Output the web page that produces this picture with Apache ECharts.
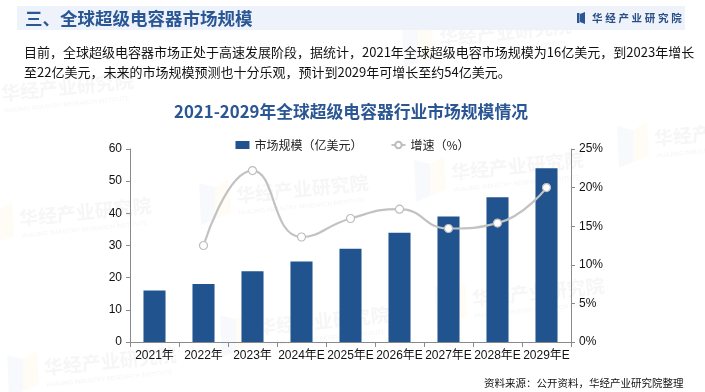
<!DOCTYPE html>
<html>
<head>
<meta charset="utf-8">
<script src="https://cdn.jsdelivr.net/npm/echarts@6/dist/echarts.min.js"></script>
<style>
html,body{margin:0;padding:0;background:#fff;}
#c{width:705px;height:392px;}
</style>
</head>
<body>
<div id="c"></div>
<script>
const categories = ['2021年','2022年','2023年','2024年E','2025年E','2026年E','2027年E','2028年E','2029年E'];
const marketSize = [16, 18, 22, 25, 29, 34, 39, 45, 54];
const growthRate = [null, 12.5, 22.2, 13.6, 16.0, 17.2, 14.7, 15.4, 20.0];
const leftTicks = {min: 0, max: 60, interval: 10};
const rightTicks = {min: 0, max: 25, interval: 5};
const seriesNames = ['市场规模（亿美元）', '增速（%）'];
const headerTitle = '三、全球超级电容器市场规模';
const chartTitle = '2021-2029年全球超级电容器行业市场规模情况';
const paraLines = [
  '目前，全球超级电容器市场正处于高速发展阶段，据统计，2021年全球超级电容市场规模为16亿美元，到2023年增长',
  '至22亿美元，未来的市场规模预测也十分乐观，预计到2029年可增长至约54亿美元。'
];
const sourceText = '资料来源：公开资料，华经产业研究院整理';
const brandChars = ['华','经','产','业','研','究','院'];

const FONT = '"Liberation Sans", "Noto Sans CJK SC", sans-serif';
const CJK = '"Noto Sans CJK SC", "Liberation Sans", sans-serif';

const wmPos = [[2,103],[20,228],[237,205],[258,337],[440,48],[452,182],[473,308],[45,377],[655,148]];
const graphics = [];
wmPos.forEach(p => {
  graphics.push({type:'polygon', z:-10, silent:true,
    shape:{points:[[p[0]-38,p[1]-22],[p[0]-22,p[1]-18],[p[0]-22,p[1]+14],[p[0]-36,p[1]+20]]},
    style:{fill:'rgba(200,215,240,0.15)'}});
  graphics.push({type:'polygon', z:-10, silent:true,
    shape:{points:[[p[0]-22,p[1]-18],[p[0]-8,p[1]-26],[p[0]-6,p[1]+8],[p[0]-22,p[1]+14]]},
    style:{fill:'rgba(250,235,180,0.15)'}});
  graphics.push({type:'text', z:-10, silent:true, x:p[0], y:p[1], rotation:0.1,
    style:{text:'华经产业研究院', font:'bold 19px ' + CJK, fill:'rgba(170,170,170,0.10)', textVerticalAlign:'bottom'}});
  graphics.push({type:'text', z:-10, silent:true, x:p[0]+2, y:p[1]+11, rotation:0.1,
    style:{text:'HUAJING INDUSTRY RESEARCH INSTITUTE', font:'6px ' + FONT, fill:'rgba(170,170,170,0.13)', textVerticalAlign:'bottom'}});
});
// header band
graphics.push({type:'rect', z:1, shape:{x:17,y:6,width:668,height:24}, style:{fill:'#eef3fb'}});
graphics.push({type:'text', z:2, x:25, y:18, style:{text:headerTitle, font:'bold 17.5px ' + CJK, fill:'#2a5694', textVerticalAlign:'middle'}});
graphics.push({type:'rect', z:2, shape:{x:577,y:13,width:2.5,height:10}, style:{fill:'#2a5694'}});
graphics.push({type:'polygon', z:2, shape:{points:[[580,14],[585,12],[585,24],[580,22]]}, style:{fill:'#2a5694'}});
brandChars.forEach((ch,i) => {
  graphics.push({type:'text', z:2, x:592 + i*13.2, y:18, style:{text:ch, font:'bold 10.5px ' + CJK, fill:'#2a4f86', textVerticalAlign:'middle'}});
});
paraLines.forEach((t,i) => {
  graphics.push({type:'text', z:2, x:24, y:52 + i*20, style:{text:t, font:'13px ' + CJK, fill:'#111', textVerticalAlign:'middle'}});
});
graphics.push({type:'text', z:2, x:351, y:112, style:{text:chartTitle, font:'bold 16.8px ' + CJK, fill:'#2a5694', textAlign:'center', textVerticalAlign:'middle'}});
graphics.push({type:'text', z:2, x:484, y:383, style:{text:sourceText, font:'10.5px ' + CJK, fill:'#111', textVerticalAlign:'middle'}});

const axisGray = '#8a8a8a';
const option = {
  animation: false,
  backgroundColor: '#fff',
  graphic: graphics,
  legend: {
    top: 134, left: 'center', itemGap: 28, itemWidth: 14, itemHeight: 8,
    textStyle: {fontSize: 12, color: '#222', fontFamily: CJK},
    data: [
      {name: seriesNames[0], icon: 'rect'},
      {name: seriesNames[1]}
    ]
  },
  grid: {left: 130, right: 134, top: 149, bottom: 50, containLabel: false},
  xAxis: {
    type: 'category', data: categories,
    axisLine: {lineStyle: {color: axisGray}},
    axisTick: {show: true, length: 5, lineStyle: {color: axisGray}},
    axisLabel: {color: '#111', fontSize: 12, fontFamily: FONT, margin: 8, interval: 0}
  },
  yAxis: [
    {type: 'value', min: leftTicks.min, max: leftTicks.max, interval: leftTicks.interval,
     axisLine: {show: true, lineStyle: {color: axisGray}},
     axisTick: {show: true, length: 4, lineStyle: {color: axisGray}},
     splitLine: {show: false},
     axisLabel: {color: '#111', fontSize: 12, fontFamily: FONT, margin: 8}},
    {type: 'value', min: rightTicks.min, max: rightTicks.max, interval: rightTicks.interval,
     axisLine: {show: true, lineStyle: {color: axisGray}},
     axisTick: {show: true, length: 4, lineStyle: {color: axisGray}},
     splitLine: {show: false},
     axisLabel: {color: '#111', fontSize: 12, fontFamily: FONT, margin: 8, formatter: '{value}%'}}
  ],
  series: [
    {name: seriesNames[0], type: 'bar', data: marketSize, barWidth: '45%', yAxisIndex: 0,
     itemStyle: {color: '#21548f'}},
    {name: seriesNames[1], type: 'line', data: growthRate, yAxisIndex: 1, smooth: true,
     symbol: 'circle', symbolSize: 8, z: 5,
     lineStyle: {color: '#c2c2c2', width: 2.2},
     itemStyle: {color: '#fff', borderColor: '#bdbdbd', borderWidth: 1.2}}
  ]
};
const chart = echarts.init(document.getElementById('c'), null, {renderer: 'canvas'});
chart.setOption(option);
</script>
</body>
</html>
